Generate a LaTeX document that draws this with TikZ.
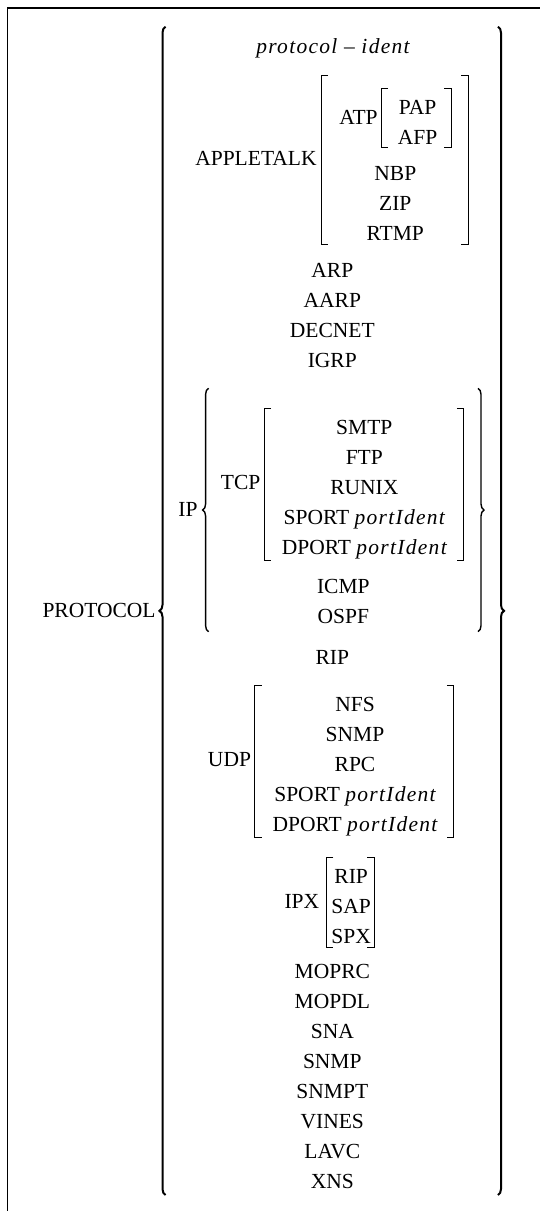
\documentclass[tikz,border=0pt]{standalone}
\usepackage{fontspec}
\setmainfont{Liberation Serif}
\newfontfamily\Ecarte[LetterSpace=6]{Liberation Serif}
\usepackage{tikz}
\usetikzlibrary{decorations.pathreplacing}
\tikzset{
Terme/.style={
 anchor=base,
 inner sep=0pt,
 font=\fontsize{10.75pt}{13pt}\selectfont
 },
Tete/.style={
 Terme,
 anchor=base east
 },
Crochet/.style={
 draw=black,
 line width=0.5pt
 },
Accolade/.style={
 draw=black,
 line width=#1,
 decorate,
 decoration={brace,amplitude=3pt}
 },
Accolade/.default={0.7pt},
Cadre/.style={
 draw=black,
 line width=0.7pt
 }
}

\begin{document}
\begin{tikzpicture}[x=0.5pt,y=-0.5pt]
\useasboundingbox (0,0) rectangle (540,1211);
\draw[Cadre] (540,8) -- (7.3,8) -- (7.3,1211);
\node[Tete] (protocol) at (156,617) {PROTOCOL};
\draw[Accolade=1pt] (165.5,1195) -- (165.5,26.7);
\draw[Accolade=1pt] (498,26.7) -- (498,1195);
\node[Terme] (ident) at (333,53.3) {\Ecarte\itshape protocol – ident};
\node[Tete] (apple) at (317,165) {APPLETALK};
\draw[Crochet] (328,75) -| (321,244) -- (328,244);
\draw[Crochet] (461,75) -| (468,244) -- (461,244);
\node[Tete] (atp) at (378,124) {ATP};
\draw[Crochet] (388,88.3) -| (381,147.7) -- (388,147.7);
\draw[Crochet] (444,88.3) -| (451,147.7) -- (444,147.7);
\node[Terme] (pap) at (417.5,114) {PAP};
\node[Terme] (afp) at (417.5,144) {AFP};
\node[Terme] (nbp) at (395.3,180.7) {NBP};
\node[Terme] (zip) at (395.3,210.7) {ZIP};
\node[Terme] (rtmp) at (395.3,240.7) {RTMP};
\node[Terme] (arp) at (332.3,277.3) {ARP};
\node[Terme] (aarp) at (332.3,307.3) {AARP};
\node[Terme] (decnet) at (332.3,337.3) {DECNET};
\node[Terme] (igrp) at (332.3,367.3) {IGRP};
\node[Tete] (ip) at (198,516) {IP};
\draw[Accolade] (208.6,631.7) -- (208.6,388.3);
\draw[Accolade] (478,388.3) -- (478,631.7);
\node[Tete] (tcp) at (260.7,489) {TCP};
\draw[Crochet] (271,408.3) -| (264,560) -- (271,560);
\draw[Crochet] (456.8,408.3) -| (463.8,560) -- (456.8,560);
\node[Terme] (smtp) at (364.3,434) {SMTP};
\node[Terme] (ftp) at (364.3,464) {FTP};
\node[Terme] (runix) at (364.3,494) {RUNIX};
\node[Terme] (tsport) at (364.3,524) {SPORT {\Ecarte\itshape portIdent}};
\node[Terme] (tdport) at (364.3,554.5) {DPORT {\Ecarte\itshape portIdent}};
\node[Terme] (icmp) at (343.3,593.3) {ICMP};
\node[Terme] (ospf) at (343.3,623.3) {OSPF};
\node[Terme] (rip) at (332.3,664) {RIP};
\node[Tete] (udp) at (251.4,766) {UDP};
\draw[Crochet] (261.8,685.7) -| (254.8,837.7) -- (261.8,837.7);
\draw[Crochet] (446.9,685.7) -| (453.9,837.7) -- (446.9,837.7);
\node[Terme] (nfs) at (355,711) {NFS};
\node[Terme] (usnmp) at (355,741) {SNMP};
\node[Terme] (rpc) at (355,771) {RPC};
\node[Terme] (usport) at (355,801) {SPORT {\Ecarte\itshape portIdent}};
\node[Terme] (udport) at (355,831.5) {DPORT {\Ecarte\itshape portIdent}};
\node[Tete] (ipx) at (319.6,908.3) {IPX};
\draw[Crochet] (333.4,857.7) -| (326.4,947.7) -- (333.4,947.7);
\draw[Crochet] (367.3,857.7) -| (374.3,947.7) -- (367.3,947.7);
\node[Terme] (xrip) at (351.2,883.3) {RIP};
\node[Terme] (sap) at (351.2,913.3) {SAP};
\node[Terme] (spx) at (351.2,943.3) {SPX};
\node[Terme] (moprc) at (332.3,978.3) {MOPRC};
\node[Terme] (mopdl) at (332.3,1008.3) {MOPDL};
\node[Terme] (sna) at (332.3,1038.3) {SNA};
\node[Terme] (snmp) at (332.3,1068.3) {SNMP};
\node[Terme] (snmpt) at (332.3,1098.3) {SNMPT};
\node[Terme] (vines) at (332.3,1128.3) {VINES};
\node[Terme] (lavc) at (332.3,1158.3) {LAVC};
\node[Terme] (xns) at (332.3,1188.3) {XNS};
\end{tikzpicture}
\end{document}
